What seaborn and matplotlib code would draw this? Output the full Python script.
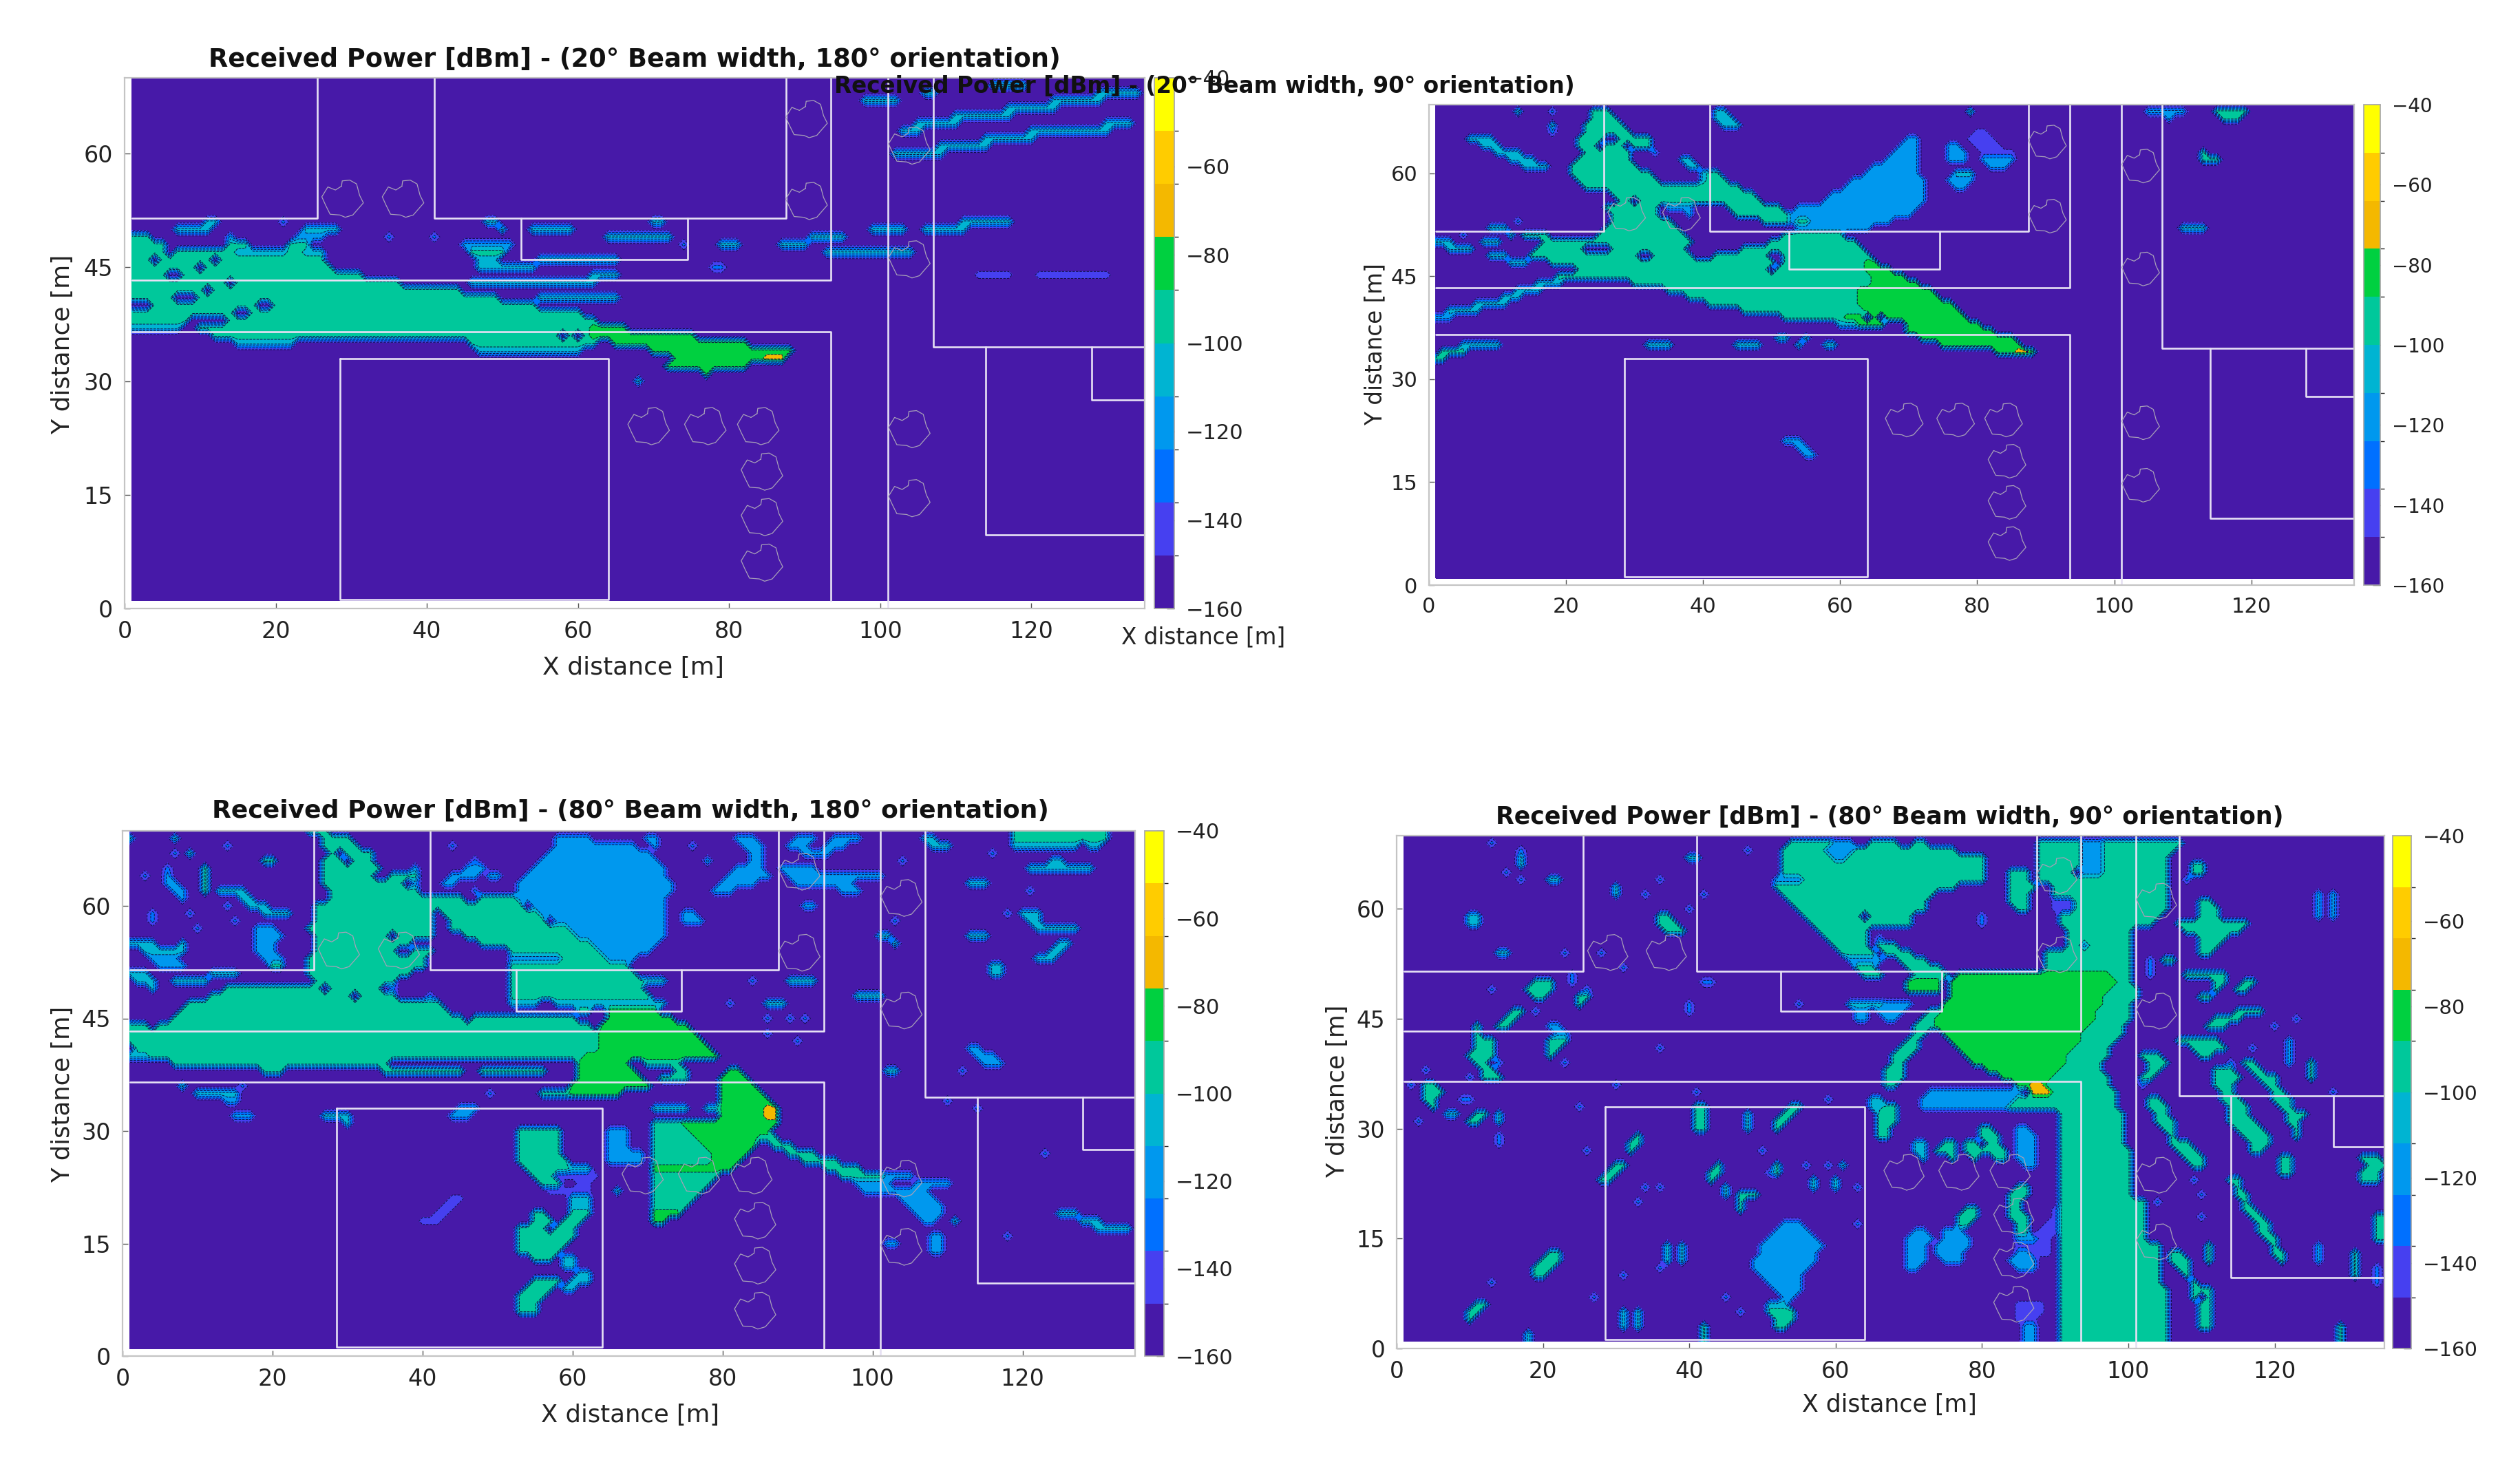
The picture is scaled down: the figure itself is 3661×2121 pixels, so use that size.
# Received power maps for four beam settings, contourf on a 1 m grid
import re
import numpy as np
import pandas as pd
import matplotlib
matplotlib.use("Agg")
import matplotlib.pyplot as plt
import seaborn as sns
from matplotlib.colors import ListedColormap, BoundaryNorm

FIG_W, FIG_H = 3661, 2121

BAND_EDGES = [-160, -148, -136, -124, -112, -100, -88, -76, -64, -52, -40]
BAND_COLORS = ["#4719A8", "#4640F0", "#0070FF", "#0098EE", "#00B4D2",
               "#00C89B", "#00D040", "#F4B800", "#FFCC00", "#FFFF00"]
CBAR_TICKS = [-160, -140, -120, -100, -80, -60, -40]
X_TICKS = [0, 20, 40, 60, 80, 100, 120]
Y_TICKS = [0, 15, 30, 45, 60]

BACKGROUND = -155
LEVEL_CODES = {".": -155, "b": -142, "u": -130, "l": -118, "c": -106,
               "t": -94, "g": -82, "o": -70, "y": -58}

# each row is  y or y0-y1 : x-span + level letter, later spans overwrite
POWER_20_180 = [
    "69:115-119c", "68:106-107c", "67:98-102c",
    "63:103-105c 120-130c", "64:105-110c 130-133c", "65:110-117c", "66:117-123c", "67:123-129c", "68:129-134c",
    "60:102-108c", "61:108-114c", "62:114-120c", "63:120-130c",
    "51:111-117c 70-71c 48-49c 11-12c 21u", "50:106-111c 99-103c 54-59c 50c 7-11c 24-28c",
    "49:91-95c 64-72c 35u 41u 14l 23-26l", "48:87-90c 79-81c 74u 45-51l", "47:93-104c 46-50t 15-21c 23-26c",
    "46:47-49c 55-65c", "45:47-54c 78-79u", "44:113-117b 121-130b 62-65c", "43:46-62c", "41:55-65c", "30:68c",
    "49:1-3t", "48:1-5t 14-16t 22-24t", "47:1-5t 7-14t 22-23t",
    "46:1-3t 5-11t 13-26t", "45:1-9t 11-27t", "44:1-5t 8-31t", "43:1-13t 15-36t", "42:1-10t 12-44t",
    "41:1-6t 10-49t", "40:4-17t 20-54t", "39:1-14t 17-60t", "38:1-8t 14-62t",
    "37:10-61t 1-7c", "36:12-57t 59t 61t", "35:15-22c 46-62t", "34:47-60c",
    "37:62-66g", "36:62-75g", "35:65-82g", "34:70-88g", "33:73-87g 85-87o", "32:72-82g", "31:77g",
]

POWER_20_90 = [
    "69:13c 18u 24-26t 42-43c 79c 105-110l 115-119t", "68:24-27t 42-44c 108l 116-118t", "67:18c 23-28t 43-45c",
    "66:23-26t 27-29t 18u", "65:22-25t 28-32t 6-9c 70-71l", "64:22-24t 26-28t 30-32t 8-10c 69-71l",
    "63:23-26t 27-29t 10-13c 33u 68-71l", "62:22-29t 37-38c 12-15c 67-71l", "61:21-24t 25-30t 38-39c 14-17c 65-71l",
    "60:21-26t 27-32t 40c 41-42t 64-71l", "59:22-33t 40-41c 41-43t 62-72l", "58:23-30t 31-40t 41-45t 61-72l",
    "57:27-29t 30-41t 41-47t 59-72l", "56:28-29t 31-41t 41-48t 58-72l", "55:26-33t 35-38l 44-51t 54-71l",
    "54:27-33t 38l 45-52t 53-70l", "53:13u 27-35t 49-52t 53-67l 54-55t", "52:9-11c 26-36t 54-64l",
    "51:5u 12c 14-17t 25-37t 52-60t", "50:1-3c 8-10c 17-23t 24-38t 50-62t", "49:3-6c 16-22t 27-37t 46-48t 49-63t",
    "48:9-11c 15-30t 33-38t 42-49t 52-64t", "47:12-14c 18-50t 52-53t 54-64t 64-65g",
    "46:22-49t 51-64t 64-67g", "45:19-23t 24-65t 65-69g", "44:16-19c 30-65t 65-71g", "43:13-16c 35-63t 63-73g",
    "42:11-13c 38-63t 63-74g", "41:7-11c 41-63t 63-76g", "40:3-7c 46-64t 64-77g", "39:1-3l 52-61t 61-63g 65g 67-78g",
    "38:60-63c 63-66g 70-80g", "37:70-82g", "36:51-52c 55c 72-85g", "35:5-10c 32-35c 45-48c 54c 58-59c 75-86g",
    "34:2-5t 83-88g 86-87o", "33:1-2t", "21:52-54l", "20:54-55l", "19:55-56l",
    "66:80-81b", "65:79-82b", "64:76-77l 80-83b", "63:76-78l 81-85b 113t", "62:76-78l 81-85l 113-115t", "61:82-84l",
    "60:77-79c", "59:76-79l", "58:77-78l", "52:110-113c",
]

POWER_80_180 = [
    "70:25-27t 119-131t", "69:1c 7c 27-30t 58-62l 70-71l 82-84l 90-92l 95-98l 107-108c 119-131t",
    "68:14u 27-31t 44u 58-68l 71l 76u 83-85l 89-91l 94-96l 108-110c 119-127c 129-130c",
    "67:7u 9c 28t 30-33t 57-70l 84-85l 91-94l 116u", "66:19-20t 27-29t 31-33t 47u 56-71l 78l 84-85l 104u 124-125c",
    "65:6u 11t 27-34t 39l 46-48l 55-72l 82-85l 88-92l 121-129c", "64:3u 6l 11t 27-33t 36-39t 44-47l 49-50l 54-72l 81-86l 89-101l",
    "63:6-7l 11t 27-37t 39l 43-44l 53-73l 80-84l 90-97l 113-115c", "62:7-8l 11t 13-16c 28-39t 47u 53-73l 79-81l 96-98l 121u",
    "61:8l 16-17c 28-40t 41-45t 48-52t 53-72l", "60:14u 17-19c 26-36t 37-41t 41-47t 48-53t 55-72l 91-92l",
    "59:4u 9u 19-22c 26-41t 43-55t 56-72l 75-76l 118u 120-122c", "58:4u 15u 26-33t 34-41t 44-56t 58-72l 75-77l 103u 121-122c",
    "57:10u 18-20l 25-41t 44-60t 60-72l 122-127c", "56:18-21l 26-35t 37-41t 46-61t 61-72l 101-102c 113-115c",
    "55:1-4c 8c 18-20l 26-38t 48-62t 63-71l 103c 125-126c", "54:3-5c 6-8c 18-20l 26-36t 39-41t 52-64t 64-70l 124-125c",
    "53:4-7l 19-21l 25-40t 52-58l 59-64t 65-68l 122-124c", "52:5-8l 20-21t 25-40t 52-67t 116-117c",
    "51:1-3c 12-15c 25-38t 52-68t 116-117c", "50:2-4c 7-11c 26-36t 52-69t 70-72c 84u 89-92c",
    "49:4c 14-26t 28-34t 36u 52-69t", "48:12-30t 32-36t 41u 52-70t 98-101c", "47:9-42t 52-55c 58-72c 81u 86-88c",
    "46:8-43t 61-62t 65-71g", "45:7-45t 47-52t 53-60t 65-73g 86u 89u 91u", "44:1-3t 5-60t 60-62t 64-75g",
    "43:1-64t 64-76g 86u", "42:1-64t 64-77g 90u", "41:2-64t 64-78g 113-114l", "40:1-3c 4-62t 62-65g 66-79g 114-116l",
    "39:7-35t 61-67g 70-74t 115-117l", "38:19-21t 35-45t 48-56t 61-68g 74-75t 81-82g 102-103c 112u", "37:61-69g 72-75t 80-83g",
    "36:8c 16u 60-70g 80-84g", "35:10-15c 49u 56-60t 60-66g 80-85g", "34:14-15l 80-86g 110u", "33:45-47l 71-75c 78-80c 114u 80-86g 86-87o",
    "32:15-17l 27-30c 44-46l 80-87g 86-87o", "31:30c 71-74t 75-87g", "30:53-58t 65-67l 71-76t 76-86g",
    "29:53-58t 65-67l 71-76t 77-85g 85-87t", "28:53-58t 65-67l 71-77t 78-84g 87-89t", "27:53-58t 65-69l 71-78t 79-83g 89-92t 123u",
    "26:53-59t 65-69l 71-79t 79-82g 91-95t", "25:54-60t 60-62c 71-81g 94-98t", "24:55-58t 58-63b 71-79t 96-101t 102-105l",
    "23:56-58t 61-62b 71-78t 98-102l 106-110l", "22:57-59b 60-62b 66c 71-77t 99-103l 104-107l", "21:44-45b 60-62c 71-76t 104-108l",
    "20:43-44b 60-62c 71-75t 105-109l", "19:42-43b 55-56t 60-62t 71-74g 106-109l 125-127c", "18:40-42b 55-57t 59-61t 71-72g 107-108l 111c 128-130c",
    "17:53-56t 58-60t 130-134c", "16:53-56t 57-60t 108-109l 118u", "15:53-59t 102-103l 108-109l", "14:53-58t 108-109l",
    "13:55-57t 59-60c", "12:59-60c", "11:61-62c", "10:55-58t 60-62c", "9:54-57t 59-60c", "8:53-56t", "7:53-55t", "6:53-55t",
]

POWER_80_90 = [
    "69:13u 54-59t 60-62l 65-68t 71-72t 88-94t 94-97l 97-107t", "68:17u 48u 53-59t 59-62l 63-69t 70-76t 88-94t 94-97l 97-106t",
    "67:17c 40-41c 53-60t 60-62l 62-80t 88-94t 94-97l 97-105t", "66:17c 53-80t 88-94t 94-97l 97-105t 109-110t",
    "65:15u 53-80t 84-86t 88-92t 94-97l 97-105t 109-110t", "64:17u 21-22c 36u 52-56l 56-80t 84-86t 88-105t 108u",
    "63:30c 52-76t 84-87t 90-105t", "62:30c 34u 42u 53-73t 84-86t 90-105t 126l 128l", "61:54-72t 84-86t 90-92b 93-105t 110-111t 126l 128l",
    "60:40u 55-72t 85-86t 90-92b 93-105t 110-112t 126l 128l", "59:10-11c 36-37t 56-63t 65-70t 80u 91-104t 110-112t 126l 128l",
    "58:10-11c 36-38t 57-65t 66-70t 80u 91-103t 107-116t", "57:37-39t 58-64t 92-100t 108-115t", "56:59-64t 66u 92-100t 110-113t",
    "55:60-64t 66-68t 92-94t 94l 95-100t 110-112t", "54:14-15c 23u 28u 61-65t 67-70t 89-100t 110-111t",
    "53:62-66l 69-72t 89-100t 103u 105-106t", "52:31u 63-65t 70-74t 89-100t 103u", "51:24u 64-66t 71-75t 77-80g 81-84g 85-87g 88-98g 98-100t 103u 108-113t",
    "50:19-21t 24u 42-43u 70-74g 76-99g 99-100t 112-113t 116-117t", "49:13u 18-21t 26u 70-74g 76-98g 98-101t 115-116t 112t",
    "48:19-20t 25-26t 76-97g 97-101t 110-111t", "47:25t 40u 55u 62-66c 67-70l 75-97g 97-100t", "46:16-17t 19u 40u 63-64l 66-69l 73-75t 75-96g 96-100t 115-118t",
    "45:15-16t 63-64l 67-68l 72-74t 74-96g 96-100t 112-115t 123u", "44:11t 14-15t 21-22l 71-73t 74-95g 95-99t 111-113t 120u",
    "43:11t 22-23l 71-72t 75-94g 94-99t", "42:11-13t 21-23t 70-71t 76-94g 94-98t 107-112t 122l", "41:11-13t 21-22t 36u 69-71t 77-93g 93-97t 109-113t 117u 122l",
    "40:10-13t 21t 68-70t 78-92g 92-97t 102-104t 110-111t 122l", "39:11-12t 14u 23u 68-69t 79-92g 92-96t 103-105t 114u 116-117t 122l 125t",
    "38:4u 12-13t 67-69t 81-91g 91-96t 103-104t 112-114t 117-118t 125t", "37:10u 12-14t 67-69t 83-90g 90-97t 102-103t 112-115t 118-120t 125t",
    "36:2u 4-5t 30u 67-68t 85-87g 87-89o 89-97t 102u 112-114t 119-120t", "35:4-6t 41u 73-85l 87-89o 90-98t 113-114t 120-121t 128u",
    "34:4-5t 9-10u 59u 65-66c 72-85l 85-88t 88-98t 103-104t 113-115t 120-122t", "33:5t 25u 65-66c 67-68t 72-85l 84-98t 103-105t 114-116t 121-122t 41-42t 54-55t",
    "32:7-8c 11-12t 14c 41-42t 48c 53-54t 66-68t 91-99t 104-105t 114-116t 122-124t", "31:3u 10-11t 14c 41-42t 48c 52-53t 66-68t 91-99t 104-106t 114-117t 122-123t",
    "30:41-42t 48c 52t 66-67t 80-81t 85-86l 91-99t 105-106t 115-118t 123t", "29:14u 33t 66-67t 80-82t 85-87l 91-99t 106t 116-119t 123t",
    "28:14u 32-33t 71-72c 75-76t 78-79t 81-82t 85-87l 91-99t 106-108t 117-119t", "27:26u 32t 50u 71-72c 74-76t 78-80t 81-83t 85-87l 91-100t 107-109t 117-118t",
    "26:72c 76t 79t 82-83t 85-87l 91-100t 108-110t 121-122t 132-134t", "25:30-31t 44t 52t 56u 59u 61c 86-87l 91-100t 109-110t 121-122t 133-135t",
    "24:29-30t 43-44t 51u 52t 91-100t 121-122t 132-134t", "23:28-29t 43t 57c 60c 91-100t 109u 114-115t 132-134t", "22:34u 36u 45c 57c 60c 63u 85-86t 91-100t 115t",
    "21:45c 47-49t 84-86t 91-100t 110u 115-116t", "20:33u 47t 84-85t 91-102t 104u 116t", "19:47t 78-79t 84-85t 90-91b 91-102t 116-117t",
    "18:77-79t 84-86t 90-91b 91-102t 110u 117-118t 134-135t", "17:53-55l 63u 77-78t 85-86t 89-90b 91-102t 118-119t 134-135t",
    "16:52-56l 71-72l 75-77l 85-86t 88-90b 91-102t 118-119t 134-135t", "15:51-57l 70-73l 75-78l 85-87l 88-89b 91-102t 119-120t 134-135t",
    "14:37c 39c 50-58l 70-72l 74-78l 85-87b 88-89b 91-104t 111t 120t 126l", "13:21-22t 37c 39c 50-57l 70-72l 74-77l 85-87l 87-89b 91-104t 106-107t 111t 120-121t 126l 131t",
    "12:20-22t 37c 39c 49-57l 70-72l 75-77l 84-87l 91-104t 106-108t 111t 121t 126l 131t", "11:19-21t 36u 49-56l 70-71l 85-87l 91-104t 107-108t 131t 134u",
    "10:19-20t 31u 50-55l 91-104t 108t 131t 134u", "9:13u 51-55l 91-104t 109t 134u", "8:52-55l 91-105t 109-110t 111t", "7:27u 45u 53-54l 91-105t 109t 111t",
    "6:11-12t 51-53c 85-88b 91-105t 110t 111t", "5:10-11t 31c 33c 47u 51-54t 85-88b 91-105t 110t 111t", "4:10t 31c 33c 52-54t 85-87b 91-105t 110-111t",
    "3:31c 33c 42t 52-53t 86-87l 91-105t 110-111t 129t", "2:18c 42t 86-87l 91-105t 129t", "1:18c 42t 86-87l 91-105t 129t",
]

PANEL_TITLES = ["Received Power [dBm] - (20\u00b0 Beam width, 180\u00b0 orientation)",
                "Received Power [dBm] - (20\u00b0 Beam width, 90\u00b0 orientation)",
                "Received Power [dBm] - (80\u00b0 Beam width, 180\u00b0 orientation)",
                "Received Power [dBm] - (80\u00b0 Beam width, 90\u00b0 orientation)"]
PANEL_DATA = [POWER_20_180, POWER_20_90, POWER_80_180, POWER_80_90]

# walls in metres: x list, y list
WALL_X = [[1, 25.5, 25.5], [41, 41, 87.5, 87.5], [52.5, 52.5, 74.5, 74.5], [1, 93.5, 93.5], [1, 93.5, 93.5],
          [101, 101], [107, 107, 135], [114, 114, 135], [128, 128, 135], [28.5, 64, 64, 28.5, 28.5], [1, 135], [1, 1]]
WALL_Y = [[51.5, 51.5, 70], [70, 51.5, 51.5, 70], [51.5, 46, 46, 51.5], [43.3, 43.3, 70], [36.5, 36.5, 1],
          [0.2, 70], [70, 34.5, 34.5], [34.5, 9.7, 9.7], [34.5, 27.5, 27.5], [33, 33, 1.2, 1.2, 33], [1, 1], [1, 36.5]]
WALL_W = [2, 2, 2, 2, 2, 1.5, 2, 2, 2, 2, 0, 0]

TREE_X = [29, 37, 90.4, 90.4, 104, 104, 69.5, 77, 84, 84.5, 84.5, 84.5, 104, 104]
TREE_Y = [54, 54, 64.5, 53.7, 61, 46, 24, 24, 24, 18, 12, 6, 23.6, 14.5]
TREE_DX = [-0.3, -0.2, 0.8, 1.7, 2.1, 2.6, 1.2, 0.2, -0.5, -1.8, -2.4, -2.9, -2.1, -1.1, -0.3]
TREE_DY = [1.7, 2.4, 2.5, 2.0, 0.5, -0.5, -2.1, -2.4, -2.1, -2.0, -0.8, 0.3, 1.6, 1.2, 1.7]

# pixel boxes left, top, right, bottom
AX_BOX = [(181, 113, 1663, 884), (2076, 152, 3420, 850), (178, 1207, 1649, 1970), (2029, 1214, 3464, 1959)]
CB_BOX = [(1677, 113, 1706, 884), (3434, 152, 3458, 850), (1663, 1207, 1691, 1970), (3476, 1214, 3503, 1959)]
TITLE_POS = [(922, 86, 26.5), (1750, 126, 23.5), (916, 1178, 26), (2745, 1187, 25)]
XLABEL_POS = [(920, 970, 26), (1748, 926, 23.5), (915, 2056, 25.5), (2745, 2041, 25)]
YLABEL_POS = [(91, 500, 26), (1998, 500, 23.5), (91, 1590, 25.5), (1943, 1585, 25)]
TICK_SIZE = [24, 22, 24, 23.5]
CB_SIZE = [22, 20, 22, 21]


def build_grid(rows):
    grid = np.full((70, 135), float(BACKGROUND))
    for row in rows:
        ys, spans = row.split(":")
        y_parts = ys.split("-")
        y0, y1 = int(y_parts[0]), int(y_parts[-1])
        for a, b, code in re.findall(r"(\d+)(?:-(\d+))?([.buctgoyl])", spans):
            x0 = int(a)
            x1 = int(b) if b else x0
            grid[min(y0, y1) - 1:max(y0, y1), x0 - 1:min(x1, 135)] = LEVEL_CODES[code]
    return grid


def box_to_axes(fig, box):
    left, top, right, bottom = box
    return fig.add_axes([left / FIG_W, 1 - bottom / FIG_H, (right - left) / FIG_W, (bottom - top) / FIG_H])


sns.set_theme(style="ticks", font="DejaVu Sans")
fig = plt.figure(figsize=(FIG_W / 100, FIG_H / 100), dpi=100, facecolor="white")
cmap = ListedColormap(sns.color_palette(BAND_COLORS))
norm = BoundaryNorm(BAND_EDGES, cmap.N)
x_grid = np.arange(1, 136)
y_grid = np.arange(1, 71)

wall_df = pd.concat([pd.DataFrame({"x": wx, "y": wy, "wall": i})
                     for i, (wx, wy) in enumerate(zip(WALL_X, WALL_Y)) if WALL_W[i] > 0])
tree_df = pd.concat([pd.DataFrame({"x": np.array(TREE_DX) + tx, "y": np.array(TREE_DY) + ty, "tree": i})
                     for i, (tx, ty) in enumerate(zip(TREE_X, TREE_Y))])

for i in range(4):
    ax = box_to_axes(fig, AX_BOX[i])
    cax = box_to_axes(fig, CB_BOX[i])
    grid = build_grid(PANEL_DATA[i])
    cf = ax.contourf(x_grid, y_grid, grid, levels=BAND_EDGES, cmap=cmap, norm=norm)
    ax.contour(x_grid, y_grid, grid, levels=BAND_EDGES[1:-1], colors="#120a40", linewidths=0.7)

    sns.lineplot(data=wall_df, x="x", y="y", units="wall", estimator=None, sort=False, ax=ax,
                 color="#e6e0f4", linewidth=1.9, legend=False)
    sns.lineplot(data=tree_df, x="x", y="y", units="tree", estimator=None, sort=False, ax=ax,
                 color="#a8a0b8", linewidth=0.9, legend=False)

    ax.set_xlim(0, 135)
    ax.set_ylim(0, 70)
    ax.set_xticks(X_TICKS)
    ax.set_yticks(Y_TICKS)
    ax.set_xlabel("")
    ax.set_ylabel("")
    ax.tick_params(direction="in", length=6, width=1, color="#555555", labelsize=TICK_SIZE[i], labelcolor="#222222", pad=12, top=False, right=False)
    for spine in ax.spines.values():
        spine.set_color("#c4c4c4")
        spine.set_linewidth(1.6)

    cb = fig.colorbar(cf, cax=cax, ticks=CBAR_TICKS)
    cb.ax.tick_params(direction="in", length=8, width=1, color="#444444", labelsize=CB_SIZE[i], labelcolor="#222222", pad=12)
    cb.outline.set_edgecolor("#a8a8a8")

    tx, ty, ts = TITLE_POS[i]
    fig.text(tx / FIG_W, 1 - ty / FIG_H, PANEL_TITLES[i], ha="center", va="center", fontsize=ts, fontweight="bold", color="#111111")
    lx, ly, ls = XLABEL_POS[i]
    fig.text(lx / FIG_W, 1 - ly / FIG_H, "X distance [m]", ha="center", va="center", fontsize=ls, color="#222222")
    lx, ly, ls = YLABEL_POS[i]
    fig.text(lx / FIG_W, 1 - ly / FIG_H, "Y distance [m]", ha="center", va="center", rotation=90, fontsize=ls, color="#222222")

fig.savefig("out.png", dpi=100)
